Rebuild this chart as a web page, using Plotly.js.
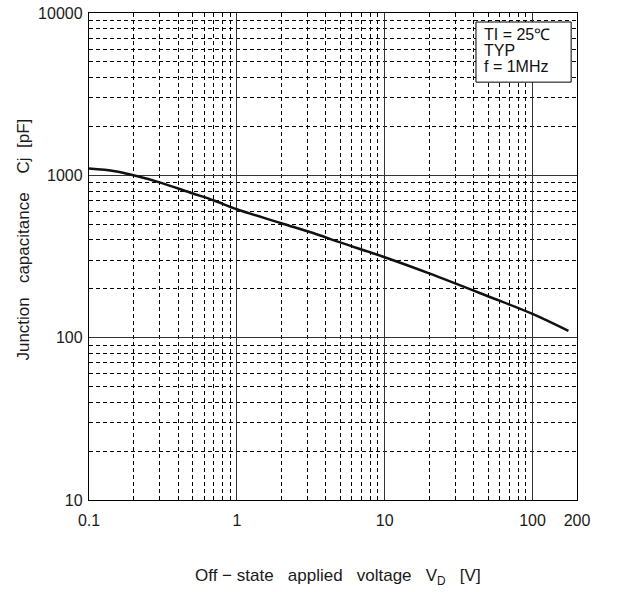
<!DOCTYPE html>
<html>
<head>
<meta charset="utf-8">
<script src="https://cdn.plot.ly/plotly-3.0.1.min.js"></script>
<style>html,body{margin:0;padding:0;background:#fff;}#chart{width:617px;height:592px;}</style>
</head>
<body>
<div id="chart"></div>
<script>
// Data
const voltage = [0.1, 0.15, 0.2, 0.3, 0.5, 0.7, 1, 2, 3.5, 5, 10, 20, 50, 100, 175];
const capacitance = [1100, 1060, 1000, 905, 775, 700, 618, 507, 432, 386, 313, 249, 180, 140, 110];
const xTickVals = [0.1, 1, 10, 100, 200];
const xTickText = ['0.1', '1', '10', '100', '200'];
const yTickVals = [10, 100, 1000, 10000];
const yTickText = ['10', '100', '1000', '10000'];
const conditionLines = ['TI\u00a0=\u00a025\u2103', 'TYP', 'f\u00a0=\u00a01MHz'];

const trace = {
  x: voltage, y: capacitance, type: 'scatter', mode: 'lines',
  line: {color: '#111', width: 2.5, shape: 'spline'}, hoverinfo: 'skip'
};

const fam = "'Liberation Sans', Arial, sans-serif";
const tickFont = {family: fam, size: 16, color: '#1a1a1a'};
const titleFont = {family: fam, size: 17, color: '#1a1a1a'};
const sp = (n) => '\u00a0'.repeat(n);

const conditionY = [0.955, 0.922, 0.891];
const conditionAnnotations = conditionLines.map((t, i) => ({
  text: t, xref: 'paper', yref: 'paper', x: 0.806, y: conditionY[i],
  xanchor: 'left', yanchor: 'middle', showarrow: false,
  font: {family: fam, size: 16, color: '#111'}
}));

const layout = {
  width: 617, height: 592,
  margin: {l: 89, r: 40, t: 13, b: 92},
  paper_bgcolor: '#fff', plot_bgcolor: '#fff',
  showlegend: false,
  xaxis: {
    type: 'log', range: [-1, Math.log10(200)],
    tickvals: xTickVals, ticktext: xTickText, tickfont: tickFont,
    ticks: '', ticklabelstandoff: 6, showgrid: true, gridcolor: '#333', gridwidth: 1,
    showline: true, mirror: true, linecolor: '#000', linewidth: 1.2,
    zeroline: false,
    minor: {dtick: 'D1', showgrid: true, griddash: '4px,3px', gridcolor: '#000', gridwidth: 1, ticks: ''}
  },
  yaxis: {
    type: 'log', range: [1, 4],
    tickvals: yTickVals, ticktext: yTickText, tickfont: tickFont,
    ticks: '', ticklabelstandoff: 2, showgrid: true, gridcolor: '#333', gridwidth: 1,
    showline: true, mirror: true, linecolor: '#000', linewidth: 1.2,
    zeroline: false,
    minor: {dtick: 'D1', showgrid: true, griddash: '4px,3px', gridcolor: '#000', gridwidth: 1, ticks: ''}
  },
  shapes: [
    {type: 'rect', xref: 'paper', yref: 'paper', x0: 0.793, x1: 0.988, y0: 0.858, y1: 0.9815,
     fillcolor: '#fff', line: {color: '#000', width: 1}, layer: 'above'}
  ],
  annotations: [
    {
      text: 'Junction' + sp(3) + 'capacitance' + sp(4) + 'Cj' + sp(2) + '[pF]', textangle: -90,
      xref: 'paper', yref: 'paper', x: -0.135, y: 0.535,
      xanchor: 'center', yanchor: 'middle', showarrow: false, font: titleFont
    },
    {
      text: 'Off' + sp(1) + '\u2212' + sp(1) + 'state' + sp(3) + 'applied' + sp(3) + 'voltage' + sp(3) + 'V<sub>D</sub>' + sp(3) + '[V]',
      xref: 'paper', yref: 'paper', x: 0.51, y: -0.159,
      xanchor: 'center', yanchor: 'middle', showarrow: false, font: titleFont
    }
  ].concat(conditionAnnotations)
};

Plotly.newPlot('chart', [trace], layout, {staticPlot: true, displayModeBar: false});
</script>
</body>
</html>
